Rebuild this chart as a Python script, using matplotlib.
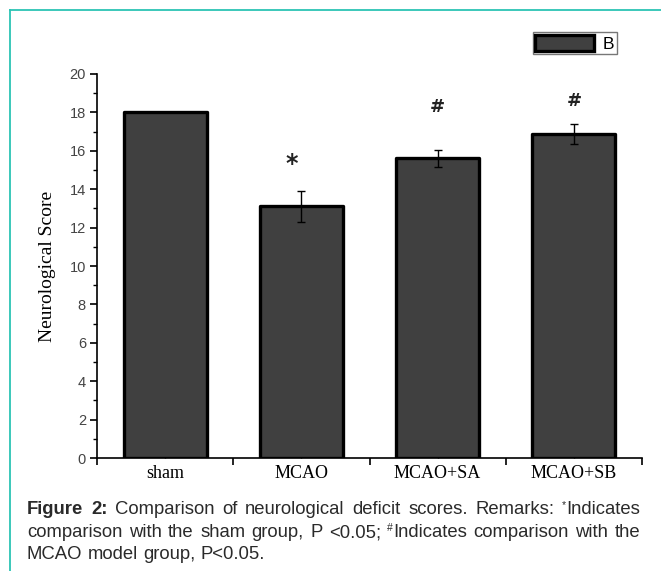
import matplotlib
matplotlib.use('Agg')

import matplotlib.pyplot as plt
from matplotlib.lines import Line2D
from matplotlib.patches import Patch
from matplotlib.ticker import MultipleLocator, FixedLocator

groups = ['sham', 'MCAO', 'MCAO+SA', 'MCAO+SB']
scores = [18.0, 13.1, 15.6, 16.9]
errors = [0.0, 0.82, 0.42, 0.52]
marks = ['', '*', '#', '#']
mark_y = [0.0, 15.3, 18.3, 18.6]

caption = [
    [("Figure", 'bold', ''), ("2:", 'bold', ''), ("Comparison", 'normal', ''), ("of", 'normal', ''),
     ("neurological", 'normal', ''), ("deficit", 'normal', ''), ("scores.", 'normal', ''),
     ("Remarks:", 'normal', ''), ("Indicates", 'normal', '*')],
    [("comparison", 'normal', ''), ("with", 'normal', ''), ("the", 'normal', ''), ("sham", 'normal', ''),
     ("group,", 'normal', ''), ("P", 'normal', ''), ("<0.05;", 'normal', ''), ("Indicates", 'normal', '#'),
     ("comparison", 'normal', ''), ("with", 'normal', ''), ("the", 'normal', '')],
    [("MCAO", 'normal', ''), ("model", 'normal', ''), ("group,", 'normal', ''), ("P<0.05.", 'normal', '')],
]

W, H = 661, 571
fig = plt.figure(figsize=(W / 100, H / 100), dpi=100)
ax = fig.add_axes([97 / W, 1 - 458 / H, (642 - 97) / W, (458 - 74) / H])

pos = list(range(1, len(groups) + 1))
ax.bar(pos, scores, width=0.61, color='#404040', edgecolor='black', linewidth=2.4,
       joinstyle='round', label='B', zorder=2)
ax.errorbar(pos[1:], scores[1:], yerr=errors[1:], fmt='none', ecolor='black',
            elinewidth=1.0, capsize=3, capthick=1.0, zorder=3)
for x, m, y in zip(pos, marks, mark_y):
    if m == '*':
        ax.text(x - 0.07, y, m, ha='center', va='center', fontsize=17,
                fontweight='bold', family='DejaVu Sans', color='#222222')
    elif m:
        ax.text(x, y, m, ha='center', va='center', fontsize=13,
                fontweight='bold', family='DejaVu Sans', color='#222222')

ax.set_xlim(0.5, len(groups) + 0.5)
ax.set_ylim(0, 20)
for s in ['top', 'right']:
    ax.spines[s].set_visible(False)
for s in ['left', 'bottom']:
    ax.spines[s].set_linewidth(1.2)

ax.yaxis.set_major_locator(MultipleLocator(2))
ax.yaxis.set_minor_locator(MultipleLocator(1))
ax.tick_params(axis='y', which='major', direction='out', length=5, width=1.2,
               labelsize=10.5, labelcolor='#444444', pad=3)
ax.tick_params(axis='y', which='minor', direction='out', length=3, width=1.0)
for lab in ax.get_yticklabels():
    lab.set_family('Liberation Sans')

ax.xaxis.set_major_locator(FixedLocator([p - 0.5 for p in pos] + [len(groups) + 0.5]))
ax.xaxis.set_minor_locator(FixedLocator(pos))
ax.set_xticklabels([])
ax.set_xticks(pos, groups, minor=True)
ax.tick_params(axis='x', which='major', direction='out', length=5, width=1.2)
ax.tick_params(axis='x', which='minor', direction='in', length=4, width=1.0,
               labelsize=13, pad=5)
for lab in ax.get_xticklabels(minor=True):
    lab.set_family('Liberation Serif')

ax.set_ylabel('Neurological Score', family='Liberation Serif', fontsize=14, labelpad=10)

handle = Patch(facecolor='#404040', edgecolor='black', linewidth=2.4, joinstyle='round')
ax.legend([handle], ['B'], loc='upper right', bbox_to_anchor=(617 / W, 1 - 32 / H),
          bbox_transform=fig.transFigure, fancybox=False, edgecolor='#777777',
          framealpha=1, handlelength=3.4, handleheight=1.05,
          borderpad=0.15, handletextpad=0.5, borderaxespad=0,
          prop={'family': 'Liberation Sans', 'size': 12.5})
ax.get_legend().get_frame().set_linewidth(1.0)

# teal frame
teal = '#2cc4b4'
fig.add_artist(Line2D([10 / W, 10 / W], [0, 1 - 10 / H], color=teal, lw=1.3,
                      transform=fig.transFigure))
fig.add_artist(Line2D([10 / W, 1], [1 - 10 / H, 1 - 10 / H], color=teal, lw=1.3,
                      transform=fig.transFigure))

# caption, justified line by line
renderer = fig.canvas.get_renderer()
x0, x1 = 27, 640
baselines = [514, 537, 559]
fs = 13.3
for li, (line, yb) in enumerate(zip(caption, baselines)):
    pieces = []
    total = 0
    for word, weight, sup in line:
        parts = []
        if sup:
            t = fig.text(0, 0, sup, fontsize=7.5, family='Liberation Sans', color='#2a2a2a',
                         va='baseline')
            w = t.get_window_extent(renderer).width
            parts.append((t, w, 6))
        t = fig.text(0, 0, word, fontsize=fs, family='Liberation Sans', fontweight=weight,
                     color='#2a2a2a', va='baseline')
        w = t.get_window_extent(renderer).width
        parts.append((t, w, 0))
        pieces.append(parts)
        total += sum(p[1] for p in parts)
    if li < len(caption) - 1:
        gap = (x1 - x0 - total) / (len(pieces) - 1)
    else:
        gap = 5.0
    x = x0
    for parts in pieces:
        for t, w, dy in parts:
            t.set_position((x / W, 1 - (yb - dy) / H))
            x += w
        x += gap

fig.savefig('out.png', dpi=100)
